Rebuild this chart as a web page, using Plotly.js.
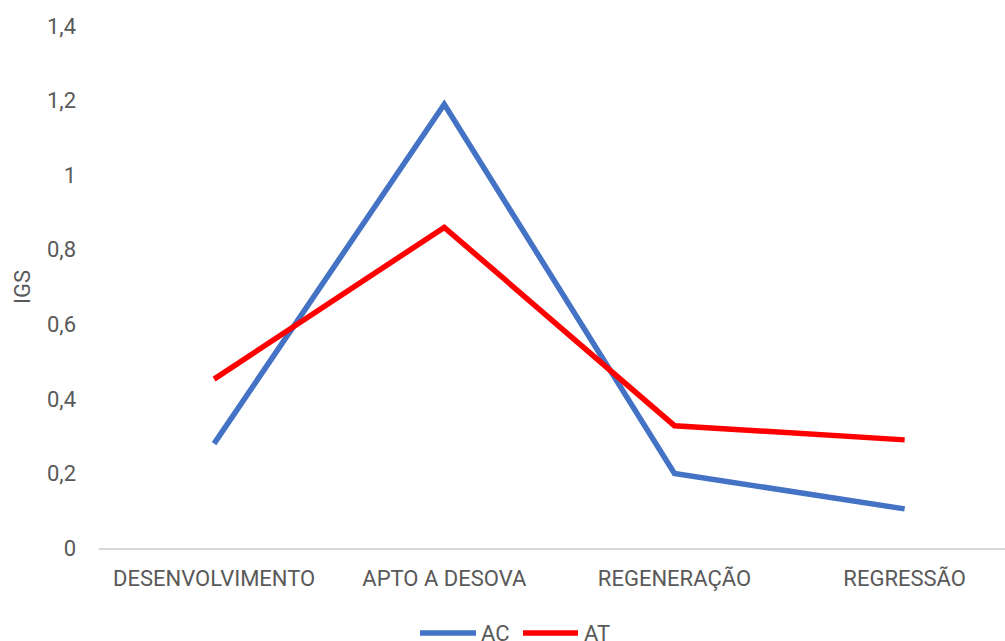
<!DOCTYPE html>
<html>
<head>
<meta charset="utf-8">
<script src="https://cdn.plot.ly/plotly-3.0.1.min.js"></script>
<style>
  html, body { margin: 0; padding: 0; background: #ffffff; overflow: hidden; }
  #chart { width: 1005px; height: 641px; }
</style>
</head>
<body>
<div id="chart"></div>
<script>
// Reproductive stages along the x axis
const stages = ['DESENVOLVIMENTO', 'APTO A DESOVA', 'REGENERAÇÃO', 'REGRESSÃO'];

// IGS per stage for each group
const seriesNames = ['AC', 'AT'];
const acValues = [0.28, 1.19, 0.20, 0.105];
const atValues = [0.453, 0.86, 0.328, 0.29];
const seriesColors = ['#4472C4', '#FF0000'];

// Y axis tick values and labels (comma decimal)
const yTickVals = [0, 0.2, 0.4, 0.6, 0.8, 1, 1.2, 1.4];
const yTickText = ['0', '0,2', '0,4', '0,6', '0,8', '1', '1,2', '1,4'];

const labelFont = { family: 'Roboto, sans-serif', size: 22, color: '#595959' };

const xIdx = stages.map((_, i) => i);
const traces = [acValues, atValues].map((vals, i) => ({
  x: xIdx,
  y: vals,
  name: seriesNames[i],
  type: 'scatter',
  mode: 'lines',
  line: { color: seriesColors[i], width: 5.5 },
  hoverinfo: 'skip',
  showlegend: false
}));

// Legend row under the axis: a wide line swatch followed by the series name
const legendY = -0.163;
const legendItems = [
  { x0: 0.3543, x1: 0.4161, tx: 0.4194 },
  { x0: 0.4680, x1: 0.5287, tx: 0.5331 }
];
const shapes = legendItems.map((it, i) => ({
  type: 'line', xref: 'paper', yref: 'paper',
  x0: it.x0, x1: it.x1, y0: legendY, y1: legendY,
  line: { color: seriesColors[i], width: 5.5 }
}));
const annotations = legendItems.map((it, i) => ({
  xref: 'paper', yref: 'paper',
  x: it.tx, y: legendY, xanchor: 'left', yanchor: 'middle',
  text: seriesNames[i], showarrow: false, font: labelFont
}));

const layout = {
  width: 1005,
  height: 641,
  margin: { l: 99, r: 0, t: 26, b: 93, pad: 0 },
  paper_bgcolor: '#ffffff',
  plot_bgcolor: '#ffffff',
  showlegend: false,
  shapes: shapes,
  annotations: annotations,
  xaxis: {
    range: [-0.5, 3.436],
    tickmode: 'array',
    tickvals: xIdx,
    ticktext: stages,
    showgrid: false,
    zeroline: false,
    showline: true,
    linecolor: '#d9d9d9',
    linewidth: 1.5,
    ticks: '',
    ticklabelstandoff: 10,
    tickfont: labelFont,
    automargin: false,
    fixedrange: true
  },
  yaxis: {
    range: [0, 1.4],
    tickmode: 'array',
    tickvals: yTickVals,
    ticktext: yTickText,
    showgrid: false,
    zeroline: false,
    showline: false,
    ticks: '',
    ticklabelstandoff: 22,
    tickfont: labelFont,
    automargin: false,
    title: { text: 'IGS', font: labelFont, standoff: 10 },
    fixedrange: true
  }
};

Plotly.newPlot('chart', traces, layout, { displayModeBar: false, staticPlot: true });
</script>
</body>
</html>
